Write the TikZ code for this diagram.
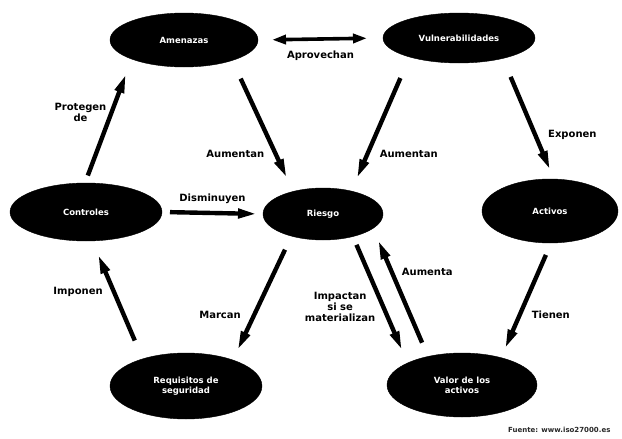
\documentclass[tikz,border=0pt]{standalone}
\usepackage{fontspec}
\setsansfont{DejaVu Sans}
\usetikzlibrary{arrows.meta, shapes.geometric}
\definecolor{riskblack}{RGB}{0,0,0}
\definecolor{risktext}{RGB}{255,255,255}
\definecolor{srcgray}{RGB}{40,40,40}

\begin{document}
\begin{tikzpicture}[
    x=1pt, y=-1pt,
    font=\sffamily\bfseries,
    elem/.style = {ellipse, fill=riskblack, draw=riskblack, text=risktext, inner sep=0pt,
                   outer sep=0pt, align=center, font=\sffamily\bfseries\fontsize{8.5}{10}\selectfont},
    arr/.style  = {-{Triangle[length=19pt,width=9pt]}, line width=4.4pt, riskblack},
    darr/.style = {{Triangle[length=14pt,width=9pt]}-{Triangle[length=14pt,width=9pt]},
                   line width=3.6pt, riskblack},
    lbl/.style  = {font=\sffamily\bfseries\fontsize{10}{11}\selectfont, inner sep=1pt, align=center},
    foot/.style = {font=\sffamily\bfseries\fontsize{7}{8}\selectfont, text=srcgray, inner sep=0pt},
]
\useasboundingbox (0,0) rectangle (622,439);

% ---- risk elements ----------------------------------------------------------
\node[elem, minimum width=148pt, minimum height=54pt] (amen) at (184,40)  {Amenazas};
\node[elem, minimum width=152pt, minimum height=50pt] (vuln) at (459,38)  {Vulnerabilidades};
\node[elem, minimum width=152pt, minimum height=58pt] (ctrl) at (86,212)  {Controles};
\node[elem, minimum width=120pt, minimum height=52pt] (ries) at (323,214) {Riesgo};
\node[elem, minimum width=136pt, minimum height=64pt] (acti) at (550,211) {Activos};
\node[elem, minimum width=152pt, minimum height=66pt] (requ) at (186,386) {Requisitos de\\seguridad};
\node[elem, minimum width=150pt, minimum height=64pt] (valo) at (462,385) {Valor de los\\activos};

% ---- relations --------------------------------------------------------------
\draw[darr, shorten <=14pt, shorten >=16pt] (amen.east) -- node[lbl, below=9pt] (lapro) {Aprovechan} (vuln.west);
\draw[arr, shorten <=20pt, shorten >=15pt] (amen.-23) -- node[lbl, pos=0.71, left=8pt] (laum1) {Aumentan} (ries.143);
\draw[arr, shorten <=23pt, shorten >=14pt] (vuln.-159) -- node[lbl, pos=0.72, right=9pt] (laum2) {Aumentan} (ries.39);
\draw[arr, shorten <=20pt, shorten >=10pt] (vuln.-25.5) -- node[lbl, pos=0.63, right=10pt] (lexp) {Exponen} (acti.83);
\draw[arr, shorten <=13pt, shorten >=10pt] (acti.-88) -- node[lbl, pos=0.63, right=9pt] (ltie) {Tienen} (valo.35);
\draw[arr, shorten <=8pt, shorten >=16pt] (ctrl.92) -- node[lbl, pos=0.57, left=2pt] (lprot) {Protegen\\de} (amen.-160);
\draw[arr, shorten <=20pt, shorten >=15pt] (requ.148) -- node[lbl, pos=0.57, left=8pt] (limp) {Imponen} (ctrl.-78);
\draw[arr, shorten <=8pt, shorten >=6pt] (ctrl.east) -- node[lbl, above=6pt] (ldis) {Disminuyen} (ries.west);
\draw[arr, shorten <=15pt, shorten >=11pt] (ries.-145) -- node[lbl, pos=0.64, left=10pt] (lmar) {Marcan} (requ.29);
\draw[arr, shorten <=9pt, shorten >=14pt] (ries.-37) -- node[lbl, pos=0.56, left=5pt] (lmat) {Impactan\\si se\\materializan} (valo.158);
\draw[arr, shorten <=15pt, shorten >=13pt] (valo.140) -- node[lbl, pos=0.66, right=7pt] (laum3) {Aumenta} (ries.-16);

\node[foot, anchor=west] (src) at (508,430) {Fuente: www.iso27000.es};
\end{tikzpicture}
\end{document}
